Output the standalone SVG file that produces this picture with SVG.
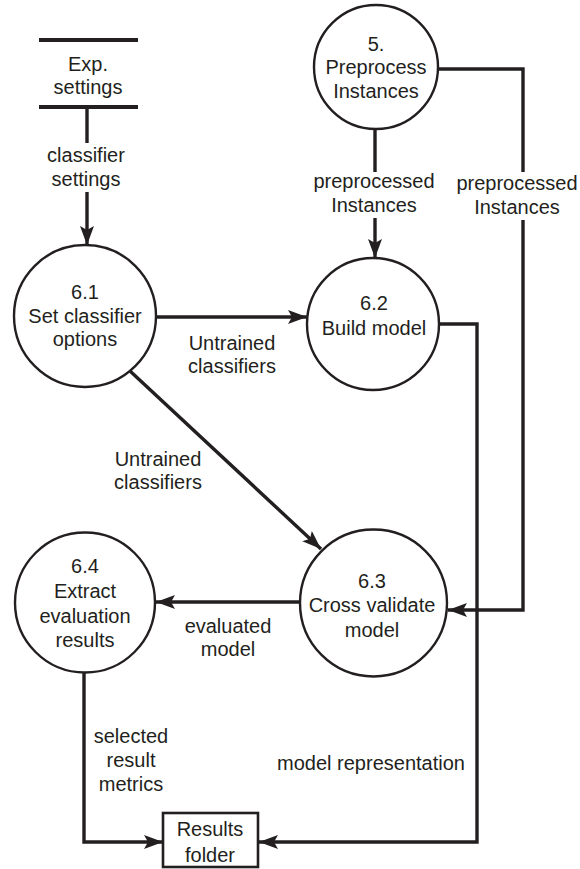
<svg xmlns="http://www.w3.org/2000/svg" width="580" height="869" viewBox="0 0 580 869">
<style>
text{font-family:"Liberation Sans",Arial,sans-serif;font-size:20px;fill:#231f20;text-anchor:middle}
.proc{fill:#fff;stroke:#231f20;stroke-width:2.4}
.flow{fill:none;stroke:#231f20;stroke-width:3.4}
.store{stroke:#231f20;stroke-width:4}
</style>
<defs>
<marker id="ah" markerUnits="userSpaceOnUse" markerWidth="20" markerHeight="16" refX="19" refY="7" orient="auto">
<path d="M0,0 L19,7 L0,14 L4,7 z" fill="#231f20"/>
</marker>
</defs>
<rect width="580" height="869" fill="#fff"/>
<g id="connectors">
<line class="flow" x1="87" y1="107" x2="87" y2="143"/>
<line class="flow" x1="87" y1="192" x2="87" y2="245" marker-end="url(#ah)"/>
<line class="flow" x1="375" y1="129" x2="375" y2="172"/>
<line class="flow" x1="375" y1="218" x2="375" y2="258" marker-end="url(#ah)"/>
<path class="flow" d="M439,69 H523 V172"/>
<path class="flow" d="M523,220 V610 H448" marker-end="url(#ah)"/>
<line class="flow" x1="156" y1="317" x2="307" y2="317" marker-end="url(#ah)"/>
<line class="flow" x1="130" y1="371" x2="321" y2="549" marker-end="url(#ah)"/>
<path class="flow" d="M439,324 H477 V842 H259" marker-end="url(#ah)"/>
<line class="flow" x1="300" y1="602" x2="156" y2="602" marker-end="url(#ah)"/>
<path class="flow" d="M84,672 V842 H163" marker-end="url(#ah)"/>
<text x="86" y="162">classifier</text>
<text x="86" y="186">settings</text>
<text x="374" y="188">preprocessed</text>
<text x="374" y="212">Instances</text>
<text x="517" y="190">preprocessed</text>
<text x="517" y="214">Instances</text>
<text x="232" y="350">Untrained</text>
<text x="232" y="373">classifiers</text>
<text x="158" y="466">Untrained</text>
<text x="158" y="489">classifiers</text>
<text x="228" y="633">evaluated</text>
<text x="228" y="656">model</text>
<text x="131" y="743">selected</text>
<text x="131" y="767">result</text>
<text x="131" y="791">metrics</text>
<text x="371" y="770">model representation</text>
</g>
<g id="store-exp">
<line class="store" x1="39" y1="40" x2="138" y2="40"/>
<line class="store" x1="39" y1="107" x2="138" y2="107"/>
<text x="88" y="71">Exp.</text>
<text x="88" y="94">settings</text>
</g>
<g id="p5">
<circle class="proc" cx="376" cy="67" r="62"/>
<text x="376" y="51">5.</text>
<text x="376" y="74">Preprocess</text>
<text x="376" y="98">Instances</text>
</g>
<g id="p61">
<circle class="proc" cx="85" cy="316" r="71"/>
<text x="85" y="299">6.1</text>
<text x="85" y="323">Set classifier</text>
<text x="85" y="346">options</text>
</g>
<g id="p62">
<circle class="proc" cx="373" cy="324" r="66"/>
<text x="374" y="310">6.2</text>
<text x="374" y="335">Build model</text>
</g>
<g id="p63">
<circle class="proc" cx="373.5" cy="603" r="73.5"/>
<text x="372" y="588">6.3</text>
<text x="372" y="612">Cross validate</text>
<text x="372" y="637">model</text>
</g>
<g id="p64">
<circle class="proc" cx="85" cy="602.5" r="70"/>
<text x="85" y="573">6.4</text>
<text x="85" y="598">Extract</text>
<text x="85" y="623">evaluation</text>
<text x="85" y="647">results</text>
</g>
<g id="results">
<rect x="163" y="813" width="95" height="54" fill="#fff" stroke="#231f20" stroke-width="2.6"/>
<text x="210" y="836">Results</text>
<text x="210" y="862">folder</text>
</g>
</svg>
